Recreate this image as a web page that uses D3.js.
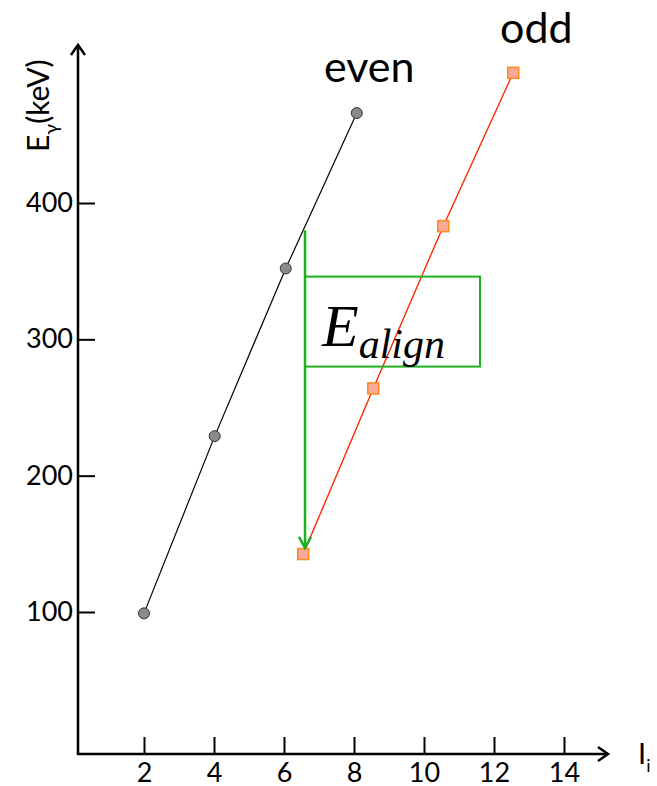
<!DOCTYPE html>
<html>
<head>
<meta charset="utf-8">
<script src="https://cdn.jsdelivr.net/npm/d3@7"></script>
<style>
  body { margin: 0; background: #fff; }
  svg text { font-family: Lato, "Open Sans", sans-serif; }
</style>
</head>
<body>
<svg id="chart"></svg>
<script>
// data
const evenSpin   = [2, 4.02, 6.05, 8.08];
const evenEnergy = [99, 229, 352, 466];
const oddSpin    = [6.55, 8.55, 10.55, 12.55];
const oddEnergy  = [142.5, 264, 383, 495.5];
const xTicks = [2, 4, 6, 8, 10, 12, 14];
const yTicks = [100, 200, 300, 400];
// E_align annotation, in data units
const alignArrow = { spin: 6.6, from: 380, to: 147 };
const alignBox   = { x0: 6.6, x1: 11.6, top: 346, bottom: 280 };

const W = 657, H = 786;
const originX = 78, originY = 754;
const green = '#1fb01f';

const svg = d3.select('#chart').attr('width', W).attr('height', H);

const x = d3.scaleLinear().domain([0, 14]).range([74, 564]);
const y = d3.scaleLinear().domain([100, 400]).range([612, 203]);

// axes
const xAxisG = svg.append('g')
  .attr('transform', `translate(0,${originY})`)
  .call(d3.axisBottom(x).tickValues(xTicks).tickSize(-17).tickPadding(9));
const yAxisG = svg.append('g')
  .attr('transform', `translate(${originX},0)`)
  .call(d3.axisLeft(y).tickValues(yTicks).tickSize(-17).tickPadding(5));

[xAxisG, yAxisG].forEach(g => {
  g.select('.domain').remove();
  g.selectAll('.tick line').attr('stroke', '#000').attr('stroke-width', 2);
  g.selectAll('.tick text').style('font-size', '27px').attr('fill', '#000');
});

// axis lines with open arrow heads
const axisLine = [[originX, 45], [originX, originY], [608, originY]];
svg.append('path')
  .attr('d', d3.line()(axisLine))
  .attr('fill', 'none').attr('stroke', '#000').attr('stroke-width', 2.5);
svg.append('path')
  .attr('d', d3.line()([[originX - 7, 55], [originX, 45], [originX + 7, 55]]))
  .attr('fill', 'none').attr('stroke', '#000').attr('stroke-width', 2.5);
svg.append('path')
  .attr('d', d3.line()([[598, originY - 7], [608, originY], [598, originY + 7]]))
  .attr('fill', 'none').attr('stroke', '#000').attr('stroke-width', 2.5);

// axis titles
const yTitle = svg.append('text')
  .attr('transform', 'translate(49,152) rotate(-90)');
yTitle.append('tspan').style('font-size', '30px').text('E');
yTitle.append('tspan').attr('dy', 9).style('font-size', '20px').text('γ');
yTitle.append('tspan').attr('dy', -9).style('font-size', '30px').text('(keV)');

const xTitle = svg.append('text')
  .attr('x', 638).attr('y', 764);
xTitle.append('tspan').style('font-size', '29px').text('I');
xTitle.append('tspan').attr('dy', 8).style('font-size', '18px').text('i');

// series
const line = d3.line().x(d => x(d[0])).y(d => y(d[1]));
const evenPts = evenSpin.map((s, i) => [s, evenEnergy[i]]);
const oddPts  = oddSpin.map((s, i) => [s, oddEnergy[i]]);

svg.append('path').attr('d', line(evenPts))
  .attr('fill', 'none').attr('stroke', '#000').attr('stroke-width', 1.2);
svg.append('path').attr('d', line(oddPts))
  .attr('fill', 'none').attr('stroke', '#ff2a00').attr('stroke-width', 1.4);

svg.selectAll('.even-pt').data(evenPts).join('circle')
  .attr('class', 'even-pt')
  .attr('cx', d => x(d[0])).attr('cy', d => y(d[1])).attr('r', 5.5)
  .attr('fill', '#8a8a8a').attr('stroke', '#333').attr('stroke-width', 1);

svg.selectAll('.odd-pt').data(oddPts).join('rect')
  .attr('class', 'odd-pt')
  .attr('x', d => x(d[0]) - 5.5).attr('y', d => y(d[1]) - 5.5)
  .attr('width', 11).attr('height', 11)
  .attr('fill', '#f9a99a').attr('stroke', '#ff8c1a').attr('stroke-width', 1.5);

// series labels
svg.append('text').attr('x', 324).attr('y', 82)
  .style('font-size', '43px').text('even');
svg.append('text').attr('x', 500).attr('y', 43)
  .style('font-size', '43px').text('odd');

// E_align annotation
svg.append('rect')
  .attr('x', x(alignBox.x0)).attr('y', y(alignBox.top))
  .attr('width', x(alignBox.x1) - x(alignBox.x0))
  .attr('height', y(alignBox.bottom) - y(alignBox.top))
  .attr('fill', 'none').attr('stroke', green).attr('stroke-width', 2);

const ax = x(alignArrow.spin), ay0 = y(alignArrow.from), ay1 = y(alignArrow.to);
svg.append('path')
  .attr('d', d3.line()([[ax, ay0], [ax, ay1]]))
  .attr('stroke', green).attr('stroke-width', 2.5).attr('fill', 'none');
svg.append('path')
  .attr('d', d3.line()([[ax - 6, ay1 - 11], [ax, ay1], [ax + 6, ay1 - 11]]))
  .attr('stroke', green).attr('stroke-width', 2.5).attr('fill', 'none');

const eAlign = svg.append('text')
  .attr('x', 322).attr('y', 346)
  .style('font-family', '"Liberation Serif", "DejaVu Serif", serif')
  .style('font-style', 'italic');
eAlign.append('tspan').style('font-size', '60px').text('E');
eAlign.append('tspan').attr('dy', 12).style('font-size', '42px').text('align');
</script>
</body>
</html>
